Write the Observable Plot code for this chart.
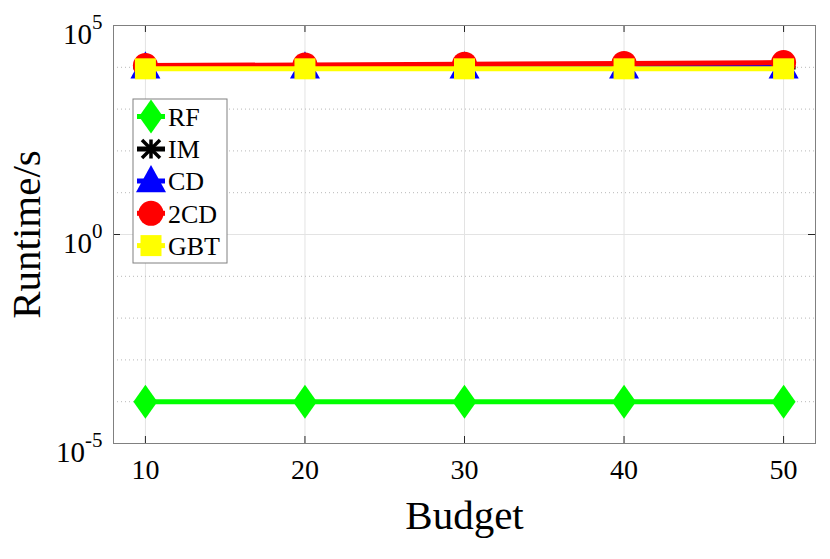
<!DOCTYPE html>
<html><head><meta charset="utf-8">
<script src="https://cdn.jsdelivr.net/npm/d3@7"></script>
<script src="https://cdn.jsdelivr.net/npm/@observablehq/plot@0.6"></script>
<style>body{margin:0;background:#fff} #chart{width:830px;height:559px}</style>
</head><body><div id="chart"></div>
<script>
// ---- data ----
const budgets = [10, 20, 30, 40, 50];
const seriesNames = ["RF", "IM", "CD", "2CD", "GBT"];
const rfValues  = [1e-4, 1e-4, 1e-4, 1e-4, 1e-4];
const imValues  = [9800, 9800, 9800, 9800, 9800];
const cdValues  = [1e4, 1e4, 1e4, 1e4, 1e4];
const cd2Values = [1.1e4, 1.14e4, 1.19e4, 1.24e4, 1.3e4];
const gbtValues = [9200, 9200, 9200, 9200, 9200];
const xTicks = [10, 20, 30, 40, 50];
const yMajorTicks = [1e-5, 1, 1e5];
const yMinorTicks = [1e-4, 1e-3, 1e-2, 1e-1, 10, 100, 1000, 1e4];

// ---- styles ----
const seriesColors = {RF: "#00ff00", IM: "#000000", CD: "#0000ff", "2CD": "#ff0000", GBT: "#ffff00"};
const font = "Liberation Serif, Times New Roman, serif";

const tallDiamond = {draw(c, size){const s=Math.sqrt(size/Math.PI); c.moveTo(0,-1.42*s); c.lineTo(s,0); c.lineTo(0,1.42*s); c.lineTo(-s,0); c.closePath();}};
const triangleUp = {draw(c, size){const s=Math.sqrt(size/Math.PI); c.moveTo(0,-1.07*s); c.lineTo(s,0.75*s); c.lineTo(-s,0.75*s); c.closePath();}};
const circleSym = {draw(c, size){const s=Math.sqrt(size/Math.PI); c.moveTo(s,0); c.arc(0,0,s,0,2*Math.PI);}};
const squareSym = {draw(c, size){const s=Math.sqrt(size/Math.PI); c.rect(-s,-s,2*s,2*s);}};
const starSym = {draw(c, size){const s=Math.sqrt(size/Math.PI); const d=0.75*s;
  c.moveTo(-s,0); c.lineTo(s,0); c.moveTo(0,-0.8*s); c.lineTo(0,0.8*s);
  c.moveTo(-d,-d); c.lineTo(d,d); c.moveTo(-d,d); c.lineTo(d,-d);}};

const seriesStyle = {
  RF:   {values: rfValues,  symbol: tallDiamond, r: 12, filled: true},
  IM:   {values: imValues,  symbol: starSym,     r: 12, filled: false},
  CD:   {values: cdValues,  symbol: triangleUp,  r: 15, filled: true},
  "2CD":{values: cd2Values, symbol: circleSym,   r: 12.5, filled: true},
  GBT:  {values: gbtValues, symbol: squareSym,   r: 10.5, filled: true}
};

const rows = seriesNames.flatMap(name => budgets.map((b, i) => ({series: name, budget: b, value: seriesStyle[name].values[i]})));

const W = 830, H = 559, mL = 113, mR = 15, mT = 25, mB = 116;
const frameW = W - mL - mR, frameH = H - mT - mB;

const seriesMarks = seriesNames.flatMap(name => {
  const st = seriesStyle[name], col = seriesColors[name];
  const data = rows.filter(d => d.series === name);
  return [
    Plot.line(data, {x: "budget", y: "value", stroke: col, strokeWidth: 5}),
    st.filled
      ? Plot.dot(data, {x: "budget", y: "value", symbol: st.symbol, r: st.r, fill: col, stroke: "none"})
      : Plot.dot(data, {x: "budget", y: "value", symbol: st.symbol, r: st.r, fill: "none", stroke: col, strokeWidth: 3.5})
  ];
});

const chart = Plot.plot({
  width: W, height: H,
  marginLeft: mL, marginRight: mR, marginTop: mT, marginBottom: mB,
  style: {fontFamily: font, background: "#fff", overflow: "visible"},
  x: {type: "linear", domain: [8, 52], axis: null},
  y: {type: "log", domain: [1e-5, 1e5], axis: null},
  marks: [
    Plot.ruleX(xTicks, {x: d => d, stroke: "#e3e3e3", strokeWidth: 1}),
    Plot.ruleY(yMinorTicks, {y: d => d, stroke: "#b8b8b8", strokeWidth: 1, strokeDasharray: "1,3"}),
    Plot.ruleY([1], {y: d => d, stroke: "#e3e3e3", strokeWidth: 1}),
    ...seriesMarks,
    Plot.tickX(xTicks, {x: d => d, stroke: "#262626", insetTop: frameH - 7}),
    Plot.tickX(xTicks, {x: d => d, stroke: "#262626", insetBottom: frameH - 7}),
    Plot.tickY(yMajorTicks, {y: d => d, stroke: "#262626", insetRight: frameW - 7}),
    Plot.tickY(yMajorTicks, {y: d => d, stroke: "#262626", insetLeft: frameW - 7}),
    Plot.frame({stroke: "#808080", strokeWidth: 1}),
    Plot.text(xTicks, {x: d => d, text: d => String(d), frameAnchor: "bottom", textAnchor: "middle", lineAnchor: "middle", dy: 27, fontSize: 28, fill: "#000"}),
    Plot.text(yMajorTicks, {y: d => d, text: d => String(Math.round(Math.log10(d))), frameAnchor: "left", textAnchor: "end", lineAnchor: "middle", dx: -11, dy: 9, fontSize: 29, fill: "#000", ariaDescription: "ytick-label"}),
    Plot.text(["Budget"], {text: d => d, frameAnchor: "bottom", textAnchor: "middle", lineAnchor: "middle", dy: 72, fontSize: 41, fill: "#000"}),
    Plot.text(["Runtime/s"], {text: d => d, frameAnchor: "left", textAnchor: "middle", rotate: -90, lineAnchor: "middle", dx: -87, fontSize: 41, fill: "#000"})
  ]
});

// superscript exponents on y tick labels
d3.select(chart).selectAll('g[aria-description="ytick-label"] text').each(function() {
  const e = this.textContent;
  const t = d3.select(this);
  t.text(null);
  t.append("tspan").text("10");
  t.append("tspan").attr("dy", "-15").attr("font-size", 21).text(e);
});

// legend
const legend = d3.select(chart).append("g").attr("font-family", font).attr("text-anchor", "start");
const lx = 133, ly = 99, lw = 94, lh = 164;
legend.append("rect").attr("x", lx).attr("y", ly).attr("width", lw).attr("height", lh)
  .attr("fill", "#fff").attr("stroke", "#808080").attr("stroke-width", 1);
const rowY = [116.5, 149, 181, 213.3, 245.6];
seriesNames.forEach((name, i) => {
  const st = seriesStyle[name], col = seriesColors[name], y = rowY[i];
  legend.append("line").attr("x1", 137).attr("x2", 165).attr("y1", y).attr("y2", y)
    .attr("stroke", col).attr("stroke-width", 5);
  const p = d3.symbol(st.symbol, Math.PI * st.r * st.r)();
  const m = legend.append("path").attr("d", p).attr("transform", `translate(151,${y})`);
  if (st.filled) m.attr("fill", col); else m.attr("fill", "none").attr("stroke", col).attr("stroke-width", 3.5);
  legend.append("text").attr("x", 168).attr("y", y).attr("dy", "0.36em").attr("font-size", 26).attr("fill", "#000").attr("text-anchor", "start").text(name);
});

document.getElementById("chart").appendChild(chart);
</script>
</body></html>
